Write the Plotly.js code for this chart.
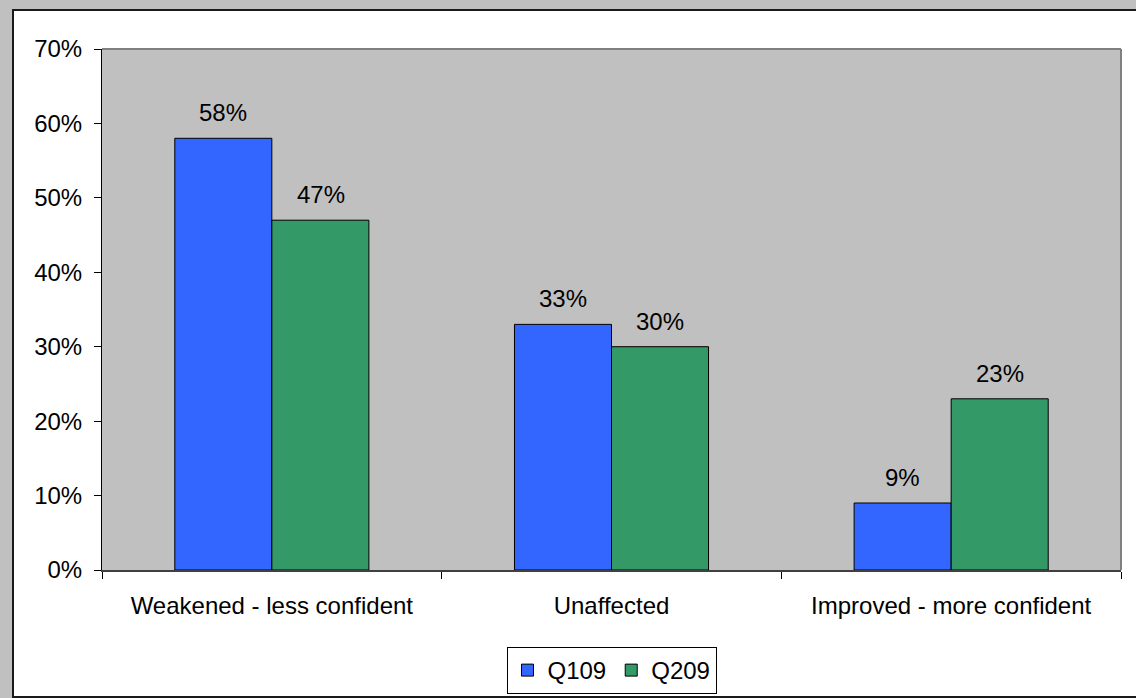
<!DOCTYPE html>
<html>
<head>
<meta charset="utf-8">
<script src="https://cdn.plot.ly/plotly-3.0.1.min.js"></script>
<style>
  html, body { margin: 0; padding: 0; background: #c0c0c0; width: 1136px; height: 698px; overflow: hidden; }
  #frame { position: absolute; left: 12px; top: 9px; width: 1200px; height: 685px; background: #fff;
           border-left: 2px solid #1a1a1a; border-top: 2px solid #1a1a1a; border-bottom: 2px solid #1a1a1a; }
  #chart { position: absolute; left: 0; top: 0; width: 1122px; height: 685px; }
</style>
</head>
<body>
<div id="frame"><div id="chart"></div></div>
<script>
const categories = ["Weakened - less confident", "Unaffected", "Improved - more confident"];
const seriesNames = ["Q109", "Q209"];
const q109 = [0.58, 0.33, 0.09];
const q209 = [0.47, 0.30, 0.23];
const seriesColors = ["#3366FF", "#339966"];

const FONT = "Liberation Sans, Arial, sans-serif";
const FS = 24;
const values = [q109, q209];

const traces = values.map((v, i) => ({
  type: "bar",
  name: seriesNames[i],
  x: categories,
  y: v,
  marker: { color: seriesColors[i], line: { color: "#000", width: 1 } },
  hoverinfo: "skip"
}));

const annotations = [];
values.forEach((v, i) => {
  v.forEach((val, j) => {
    annotations.push({
      x: categories[j], y: val, xref: "x", yref: "y",
      text: Math.round(val * 100) + "%",
      showarrow: false, yanchor: "bottom",
      xshift: (i === 0 ? -1 : 1) * 48.8, yshift: 10,
      font: { family: FONT, size: FS, color: "#000" }
    });
  });
});

const layout = {
  width: 1122, height: 685,
  margin: { l: 88, r: 15, t: 38, b: 126, autoexpand: false },
  paper_bgcolor: "rgba(0,0,0,0)",
  plot_bgcolor: "#c0c0c0",
  barmode: "group",
  bargap: 0.4286,
  bargroupgap: 0,
  font: { family: FONT, size: FS, color: "#000" },
  showlegend: true,
  legend: {
    orientation: "h", x: 0.5, xanchor: "center",
    yref: "container", y: 0.0715, yanchor: "top",
    bgcolor: "#fff", bordercolor: "#000", borderwidth: 1,
    font: { family: FONT, size: FS, color: "#000" },
    itemwidth: 30, tracegroupgap: 0
  },
  xaxis: {
    type: "category",
    showline: true, linecolor: "#404040", linewidth: 2,
    ticks: "outside", tickson: "boundaries", ticklen: 7, tickcolor: "#000", tickwidth: 1,
    ticklabelstandoff: 13,
    showgrid: false, zeroline: false,
    tickfont: { family: FONT, size: FS, color: "#000" },
    fixedrange: true
  },
  yaxis: {
    range: [0, 0.7], dtick: 0.1, tickformat: ".0%",
    showline: true, linecolor: "#000", linewidth: 1,
    ticks: "outside", ticklen: 7, tickcolor: "#000", tickwidth: 1,
    ticklabelstandoff: 7,
    showgrid: false, zeroline: false,
    tickfont: { family: FONT, size: FS, color: "#000" },
    fixedrange: true
  },
  shapes: [
    { type: "line", xref: "paper", yref: "paper", x0: 0, x1: 1, y0: 1, y1: 1, line: { color: "#808080", width: 2 } },
    { type: "line", xref: "paper", yref: "paper", x0: 1, x1: 1, y0: 0, y1: 1, line: { color: "#808080", width: 2 } }
  ],
  annotations: annotations
};

Plotly.newPlot("chart", traces, layout, { displayModeBar: false, staticPlot: true });
</script>
</body>
</html>
